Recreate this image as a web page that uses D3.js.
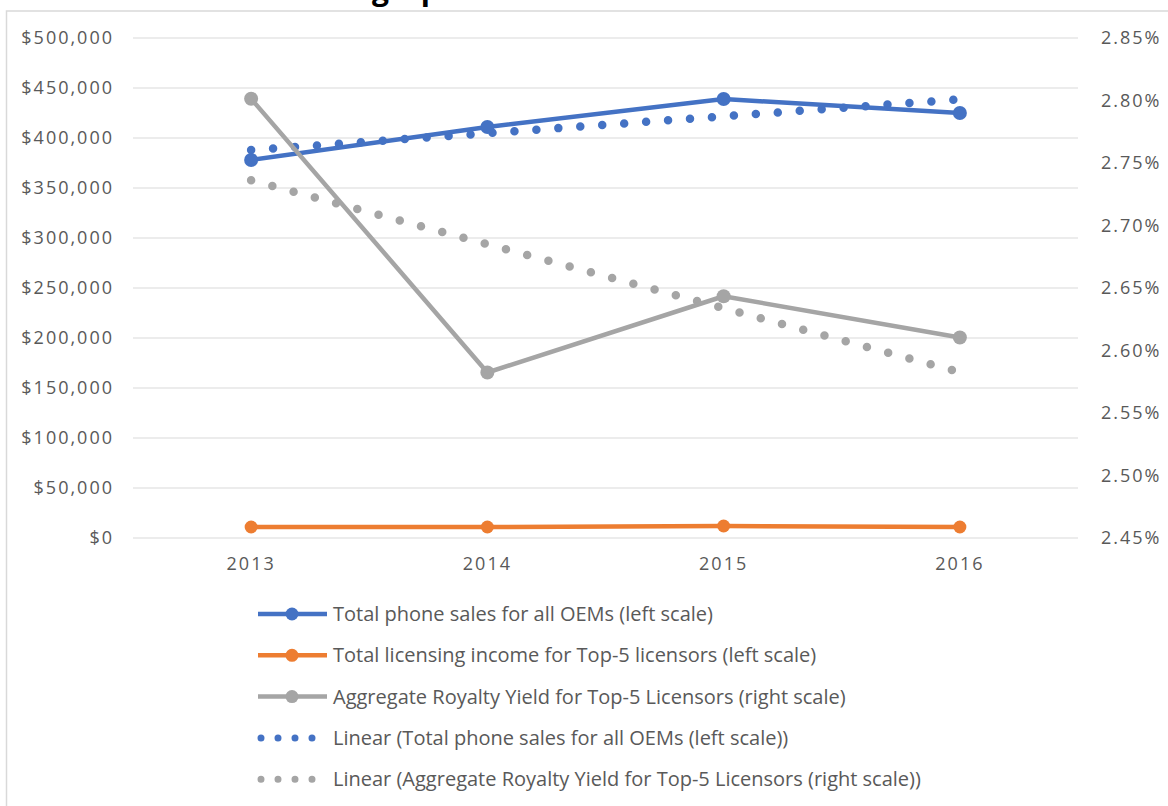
<!DOCTYPE html>
<html>
<head>
<meta charset="utf-8">
<style>
  body { margin: 0; background: #fff; }
  svg text { font-family: "Open Sans", sans-serif; }
  .axis .domain { display: none; }
  .axis text { fill: #595959; font-size: 18px; letter-spacing: 2px; }
  .legend text { fill: #595959; font-size: 20px; }
</style>
<script src="https://cdn.jsdelivr.net/npm/d3@7"></script>
</head>
<body>
<svg width="1168" height="806"></svg>
<script>
// data
var years = ["2013", "2014", "2015", "2016"];
var phoneSales = [377500, 410500, 438500, 424500];      // left scale, $
var licensingIncome = [10500, 10500, 11500, 10500];     // left scale, $
var royaltyYield = [2.801, 2.582, 2.643, 2.610];        // right scale, %
var leftTicks = [0, 50000, 100000, 150000, 200000, 250000, 300000, 350000, 400000, 450000, 500000];
var rightTicks = [2.45, 2.50, 2.55, 2.60, 2.65, 2.70, 2.75, 2.80, 2.85];
var legendLabels = [
  "Total phone sales for all OEMs (left scale)",
  "Total licensing income for Top-5 licensors (left scale)",
  "Aggregate Royalty Yield for Top-5 Licensors (right scale)",
  "Linear (Total phone sales for all OEMs (left scale))",
  "Linear (Aggregate Royalty Yield for Top-5 Licensors (right scale))"
];

var blue = "#4472c4", orange = "#ed7d31", gray = "#a5a5a5";

var svg = d3.select("svg");

// chart frame + title cut off by the top edge (only descenders show)
svg.append("text")
  .attr("x", 372).attr("y", 0)
  .style("font-size", "30px").style("font-weight", "bold").attr("fill", "#000")
  .text("graph");
svg.append("rect")
  .attr("x", 6.5).attr("y", 11)
  .attr("width", 1300).attr("height", 900)
  .attr("fill", "none").attr("stroke", "#d9d9d9").attr("stroke-width", 1.5);

var plotLeft = 133, plotRight = 1078, plotTop = 37.5, plotBottom = 537.5;

var x = d3.scaleBand().domain(years).range([plotLeft, plotRight]);
var cx = function(d) { return x(d) + x.bandwidth() / 2; };
var yL = d3.scaleLinear().domain([0, 500000]).range([plotBottom, plotTop]);
var yR = d3.scaleLinear().domain([2.45, 2.85]).range([plotBottom, plotTop]);

// gridlines
svg.append("g")
  .attr("transform", "translate(" + plotLeft + ",0)")
  .call(d3.axisLeft(yL).tickValues(leftTicks).tickSize(-(plotRight - plotLeft)).tickFormat(""))
  .call(function(g) { g.select(".domain").remove(); })
  .selectAll("line").attr("stroke", "#d9d9d9");

// axes
svg.append("g").attr("class", "axis")
  .attr("transform", "translate(" + (plotLeft - 16) + ",0)")
  .call(d3.axisLeft(yL).tickValues(leftTicks).tickSize(0)
    .tickFormat(function(d) { return "$" + d3.format(",")(d); }))
  .selectAll("text").attr("dy", "0.35em");

svg.append("g").attr("class", "axis")
  .attr("transform", "translate(" + (plotRight + 20) + ",0)")
  .call(d3.axisRight(yR).tickValues(rightTicks).tickSize(0)
    .tickFormat(function(d) { return d.toFixed(2) + "%"; }))
  .selectAll("text").attr("dy", "0.35em");

svg.append("g").attr("class", "axis")
  .attr("transform", "translate(0," + plotBottom + ")")
  .call(d3.axisBottom(x).tickSize(0).tickPadding(20));

// linear trendlines (least squares over the category index)
function trend(vals) {
  var n = vals.length, mx = (n - 1) / 2, my = d3.mean(vals), sxy = 0, sxx = 0;
  vals.forEach(function(v, i) { sxy += (i - mx) * (v - my); sxx += (i - mx) * (i - mx); });
  var b = sxy / sxx;
  return [my - b * mx, my + b * (n - 1 - mx)];
}

function drawTrend(vals, yScale, color) {
  var t = trend(vals);
  svg.append("line")
    .attr("x1", cx(years[0])).attr("y1", yScale(t[0]))
    .attr("x2", cx(years[years.length - 1])).attr("y2", yScale(t[1]))
    .attr("stroke", color).attr("stroke-width", 8.5)
    .attr("stroke-linecap", "round").attr("stroke-dasharray", "0 22");
}
drawTrend(royaltyYield, yR, gray);
drawTrend(phoneSales, yL, blue);

function drawSeries(vals, yScale, color, r) {
  var line = d3.line()
    .x(function(d, i) { return cx(years[i]); })
    .y(function(d) { return yScale(d); });
  svg.append("path").datum(vals)
    .attr("d", line)
    .attr("fill", "none").attr("stroke", color).attr("stroke-width", 4.5)
    .attr("stroke-linejoin", "round");
  svg.append("g").selectAll("circle").data(vals).enter().append("circle")
    .attr("cx", function(d, i) { return cx(years[i]); })
    .attr("cy", function(d) { return yScale(d); })
    .attr("r", r).attr("fill", color);
}
drawSeries(phoneSales, yL, blue, 7);
drawSeries(licensingIncome, yL, orange, 6.5);
drawSeries(royaltyYield, yR, gray, 7);

// legend
var legendColors = [blue, orange, gray, blue, gray];
var lg = svg.append("g").attr("class", "legend");
legendLabels.forEach(function(label, i) {
  var ly = 614 + i * 41.3;
  var item = lg.append("g").attr("transform", "translate(0," + ly + ")");
  if (i < 3) {
    item.append("line").attr("x1", 258).attr("x2", 327).attr("y1", 0).attr("y2", 0)
      .attr("stroke", legendColors[i]).attr("stroke-width", 4.5);
    item.append("circle").attr("cx", 292).attr("cy", 0).attr("r", 6.5).attr("fill", legendColors[i]);
  } else {
    item.append("line").attr("x1", 261).attr("x2", 313).attr("y1", 0).attr("y2", 0)
      .attr("stroke", legendColors[i]).attr("stroke-width", 7)
      .attr("stroke-linecap", "round").attr("stroke-dasharray", "0 17");
  }
  item.append("text").attr("x", 333).attr("y", 0).attr("dy", "0.35em").text(label);
});
</script>
</body>
</html>
